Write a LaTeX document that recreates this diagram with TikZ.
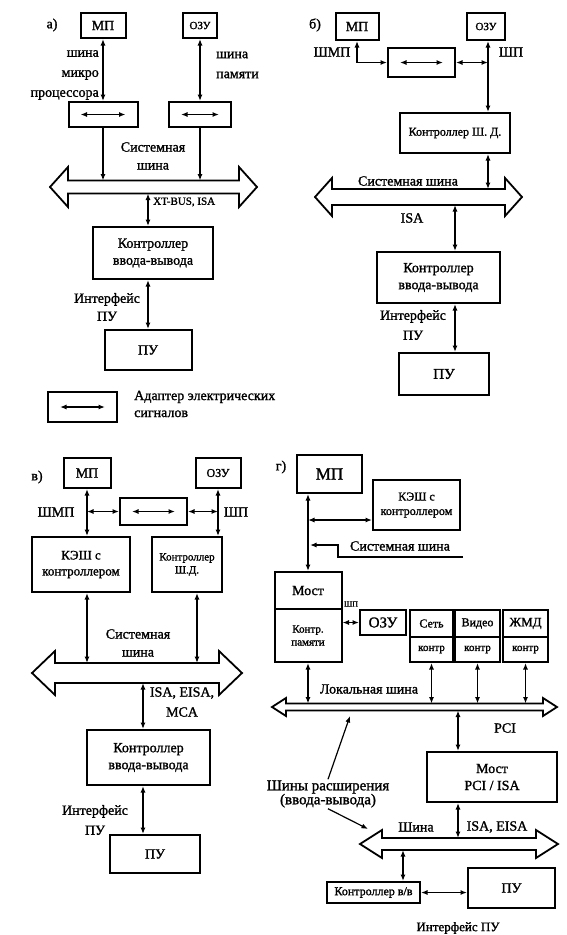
\documentclass[tikz,border=0pt]{standalone}
\usepackage{fontspec}
\setmainfont{Liberation Serif}[UprightFeatures={FakeBold=1.4}]
\usepackage{tikz}
\usetikzlibrary{arrows.meta,positioning,calc}

% wide double-headed bus: xl, xr, y, half shaft, head length, half head
\newcommand{\drawbus}[6]{%
  \draw[bus] (#1,#3) -- ({#1+#5},{#3-#6}) -- ({#1+#5},{#3-#4}) -- ({#2-#5},{#3-#4})
    -- ({#2-#5},{#3-#6}) -- (#2,#3) -- ({#2-#5},{#3+#6}) -- ({#2-#5},{#3+#4})
    -- ({#1+#5},{#3+#4}) -- ({#1+#5},{#3+#6}) -- cycle;}

\begin{document}
\begin{tikzpicture}[x=1pt, y=-1pt,
    >={Latex[length=6.5pt, width=5pt]},
    f10/.style={font=\fontsize{10}{12}\selectfont},
    f11/.style={font=\fontsize{11}{13}\selectfont},
    f12/.style={font=\fontsize{12}{14.5}\selectfont},
    f13/.style={font=\fontsize{13}{16}\selectfont},
    f15/.style={font=\fontsize{15}{17}\selectfont},
    blk/.style={rectangle, draw, line width=2pt, inner sep=0pt, align=center,
                font=\fontsize{14}{17}\selectfont},
    adp/.style={blk, path picture={\draw[<->, line width=1.2pt]
                ([xshift=12pt]path picture bounding box.west) --
                ([xshift=-12pt]path picture bounding box.east);}},
    lbl/.style={inner sep=1pt, align=center, font=\fontsize{14}{18}\selectfont},
    dar/.style={<->, line width=1.2pt},
    arr/.style={->, line width=1.2pt},
    bus/.style={line width=1.8pt, line join=miter}
]
    \useasboundingbox (0,0) rectangle (567,935);

    % a)
    \node[lbl]                                          (tagA)  at (52,25)      {а)};
    \node[blk, minimum width=45, minimum height=25]     (mpA)   at (103,25.5)   {МП};
    \node[blk, f11, minimum width=34, minimum height=25](ozuA)  at (200,25.5)   {ОЗУ};
    \node[adp, minimum width=69, minimum height=25]     (adA1)  at (103,114.5)  {};
    \node[adp, minimum width=62, minimum height=25]     (adA2)  at (200,114.5)  {};
    \node[lbl, anchor=east, align=right, font=\fontsize{14}{20}\selectfont]
                                                        (ltA1)  at (100,75)     {шина\\микро\\процессора};
    \node[lbl, anchor=west, align=left, font=\fontsize{14}{20}\selectfont]
                                                        (ltA2)  at (215,65)     {шина\\памяти};
    \node[lbl]                                          (sysA)  at (153,156)    {Системная\\шина};
    \drawbus{50}{257}{187}{6.5}{18}{20}
    \coordinate (busAt) at (0,180.5);
    \coordinate (busAb) at (0,193.5);
    \node[lbl, f11, anchor=west]                        (xtA)   at (152,202)    {XT-BUS, ISA};
    \node[blk, minimum width=120, minimum height=52]    (ctrlA) at (153,253)    {Контроллер\\ввода-вывода};
    \node[lbl]                                          (ifA)   at (107,307)    {Интерфейс\\ПУ};
    \node[blk, minimum width=87, minimum height=40]     (puA)   at (148,350)    {ПУ};
    \node[adp, minimum width=69, minimum height=30]     (legA)  at (82.5,407)   {};
    \node[lbl, anchor=west, align=left, font=\fontsize{14}{17}\selectfont]
                                                        (legT)  at (133,404)    {Адаптер электрических\\сигналов};

    \draw[dar] (mpA) -- (adA1);
    \draw[dar] (ozuA) -- (adA2);
    \draw[arr] (adA1) -- (adA1 |- busAt);
    \draw[arr] (adA2) -- (adA2 |- busAt);
    \draw[dar] (puA |- busAb) -- (puA |- ctrlA.north);
    \draw[dar] (puA |- ctrlA.south) -- (puA);

    % b)
    \node[lbl]                                          (tagB)  at (315,25)     {б)};
    \node[blk, minimum width=43, minimum height=27]     (mpB)   at (357,26.5)   {МП};
    \node[blk, f11, minimum width=38, minimum height=27](ozuB)  at (486,26.5)   {ОЗУ};
    \node[adp, minimum width=67, minimum height=29]     (adB)   at (421.5,62.5) {};
    \node[lbl]                                          (shmpB) at (332,52)     {ШМП};
    \node[lbl]                                          (shpB)  at (511,52)     {ШП};
    \node[blk, f12, minimum width=110, minimum height=40](shdB) at (455,133)    {Контроллер Ш. Д.};
    \node[lbl]                                          (sysB)  at (408,181)    {Системная шина};
    \drawbus{315}{522}{197}{8}{17}{19}
    \coordinate (busBt) at (0,189);
    \coordinate (busBb) at (0,205);
    \coordinate (jB)    at (488,62.5);
    \coordinate (xB)    at (455,0);
    \node[lbl]                                          (isaB)  at (412,218)    {ISA};
    \node[blk, minimum width=123, minimum height=51]    (ctrlB) at (438.5,277.5){Контроллер\\ввода-вывода};
    \node[lbl, font=\fontsize{14}{20}\selectfont]       (ifB)   at (413,325)    {Интерфейс\\ПУ};
    \node[blk, f15, minimum width=90, minimum height=42](puB)   at (444,374)    {ПУ};

    \draw[dar] (mpB) |- (adB);
    \draw[dar] (adB) -- (jB);
    \draw[dar] (ozuB.south -| jB) -- (jB |- shdB.north);
    \draw[dar] (jB |- shdB.south) -- (jB |- busBt);
    \draw[dar] (xB |- busBb) -- (xB |- ctrlB.north);
    \draw[dar] (xB |- ctrlB.south) -- (xB |- puB.north);

    % c)
    \node[lbl]                                          (tagC)  at (37,477)     {в)};
    \node[blk, minimum width=47, minimum height=30]     (mpC)   at (87,473)     {МП};
    \node[blk, f12, minimum width=45, minimum height=30](ozuC)  at (218,473)    {ОЗУ};
    \node[adp, minimum width=67, minimum height=27]     (adC)   at (153.5,511.5){};
    \node[lbl]                                          (shmpC) at (56,512)     {ШМП};
    \node[lbl]                                          (shpC)  at (236,512)    {ШП};
    \node[blk, f13, minimum width=98, minimum height=55](cacheC) at (81,564.5)  {КЭШ с\\контроллером};
    \node[blk, f11, minimum width=70, minimum height=55](shdC)  at (187,564.5)  {Контроллер\\Ш.Д.};
    \node[lbl]                                          (sysC)  at (138,643)    {Системная\\шина};
    \drawbus{32}{242}{673}{10}{23}{22}
    \coordinate (busCt) at (0,663);
    \coordinate (busCb) at (0,683);
    \coordinate (xC1)   at (197,0);
    \coordinate (xC2)   at (143,0);
    \node[lbl, font=\fontsize{14}{20}\selectfont]       (isaC)  at (182,702)    {ISA, EISA,\\MCA};
    \node[blk, minimum width=123, minimum height=55]    (ctrlC) at (148.5,757.5){Контроллер\\ввода-вывода};
    \node[lbl, font=\fontsize{14}{20}\selectfont]       (ifC)   at (95,820)     {Интерфейс\\ПУ};
    \node[blk, minimum width=90, minimum height=38]     (puC)   at (155,854)    {ПУ};

    \draw[dar] (mpC) -- (mpC |- cacheC.north);
    \draw[dar] (mpC |- adC) -- (adC);
    \draw[dar] (ozuC) -- (ozuC |- shdC.north);
    \draw[dar] (adC) -- (ozuC |- adC);
    \draw[dar] (mpC |- cacheC.south) -- (mpC |- busCt);
    \draw[dar] (xC1 |- shdC.south) -- (xC1 |- busCt);
    \draw[dar] (xC2 |- busCb) -- (xC2 |- ctrlC.north);
    \draw[dar] (xC2 |- ctrlC.south) -- (xC2 |- puC.north);

    % d)
    \node[lbl]                                          (tagD)  at (281,467)    {г)};
    \node[blk, font=\fontsize{17}{20}\selectfont, minimum width=65, minimum height=38]
                                                        (mpD)   at (329.5,474)  {МП};
    \node[blk, f12, minimum width=87, minimum height=50](cacheD) at (416.5,505) {КЭШ с\\контроллером};
    \node[blk, minimum width=67, minimum height=37]     (mostD) at (308,590.5)  {Мост};
    \node[blk, f11, minimum width=67, minimum height=53](memD)  at (308,635.5)  {Контр.\\памяти};
    \node[lbl]                                          (sysD)  at (400,546)    {Системная шина};
    \coordinate (jD)   at (308,520);
    \coordinate (sysE) at (463,557);
    \coordinate (sysK) at (310,545);
    \node[lbl, font=\fontsize{8}{9}\selectfont]         (shpD)  at (351,604)    {ШП};
    \node[blk, f15, minimum width=46, minimum height=25](ozuD)  at (383,622.5)  {ОЗУ};
    \node[blk, f12, minimum width=43, minimum height=27](netD)  at (431.5,623.5){Сеть};
    \node[blk, f11, minimum width=43, minimum height=25](netcD) at (431.5,649.5){контр};
    \node[blk, f12, minimum width=45, minimum height=27](vidD)  at (477.5,623.5){Видео};
    \node[blk, f11, minimum width=45, minimum height=25](vidcD) at (477.5,649.5){контр};
    \node[blk, f13, minimum width=45, minimum height=27](hddD)  at (525.5,623.5){ЖМД};
    \node[blk, f11, minimum width=45, minimum height=25](hddcD) at (525.5,649.5){контр};
    \node[lbl]                                          (locD)  at (369,689)    {Локальная шина};
    \drawbus{272}{557}{707}{3.5}{14}{9}
    \coordinate (busDt) at (0,703.5);
    \coordinate (busDb) at (0,710.5);
    \node[lbl]                                          (pciD)  at (505,728)    {PCI};
    \node[blk, minimum width=130, minimum height=50]    (brgD)  at (492,777)    {Мост\\PCI / ISA};
    \node[lbl, font=\fontsize{15}{14}\selectfont]       (extD)  at (328,794)    {Шины расширения\\(ввода-вывода)};
    \node[lbl]                                          (shD)   at (416,827)    {Шина};
    \node[lbl]                                          (isaD)  at (497,827)    {ISA, EISA};
    \drawbus{360}{558}{844}{6}{22}{14}
    \coordinate (busEt) at (0,838);
    \coordinate (busEb) at (0,850);
    \coordinate (xD2)   at (458,0);
    \coordinate (xD3)   at (403,0);
    \coordinate (extT1) at (350,716);
    \coordinate (extT2) at (368,829);
    \node[blk, f12, minimum width=93, minimum height=21](ioD)   at (373.5,892.5){Контроллер в/в};
    \node[blk, minimum width=87, minimum height=40]     (puD)   at (511.5,888)  {ПУ};
    \node[lbl, f13]                                     (ifD)   at (458,928)    {Интерфейс ПУ};

    \draw[dar] (mostD |- mpD.south) -- (mostD);
    \draw[dar] (jD) -- (jD -| cacheD.west);
    \draw[arr] (sysE) -- ++(-125,0) |- (sysK);
    \draw[dar] (memD.east |- ozuD) -- (ozuD);
    \draw[dar] (memD) -- (memD |- busDt);
    \draw[dar] (netcD) -- (netcD |- busDt);
    \draw[dar] (vidcD) -- (vidcD |- busDt);
    \draw[dar] (hddcD) -- (hddcD |- busDt);
    \draw[dar] (xD2 |- busDb) -- (xD2 |- brgD.north);
    \draw[dar] (xD2 |- brgD.south) -- (xD2 |- busEt);
    \draw[dar] (xD3 |- busEb) -- (xD3 |- ioD.north);
    \draw[dar] (ioD.east) -- (ioD.east -| puD.west);
    \draw[arr] (extD.north) -- (extT1);
    \draw[arr] (extD.south) -- (extT2);
\end{tikzpicture}
\end{document}
